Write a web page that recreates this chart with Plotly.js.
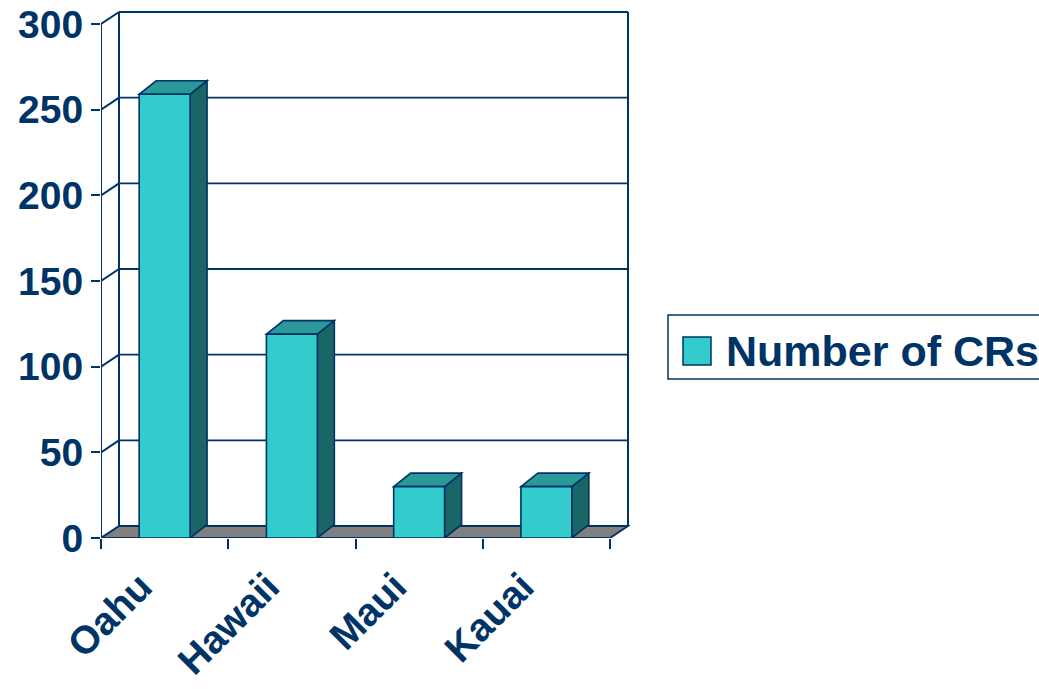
<!DOCTYPE html>
<html>
<head>
<meta charset="utf-8">
<script src="https://cdn.plot.ly/plotly-3.0.1.min.js"></script>
<style>
  html, body { margin: 0; padding: 0; background: #ffffff; }
  #chart { width: 1039px; height: 689px; }
</style>
</head>
<body>
<div id="chart"></div>
<script>
// ---- data ----
const categories = ['Oahu', 'Hawaii', 'Maui', 'Kauai'];
const crCounts = [259, 119, 30, 30];
const seriesName = 'Number of CRs';
const yTickVals = [0, 50, 100, 150, 200, 250, 300];

// ---- style / layout constants ----
const NAVY = '#003366';
const FRONT = '#33CCCC';
const TOPC = '#2B9999';
const SIDE = '#1A6666';
const FLOOR = '#808080';
const FONT = '"Liberation Sans", Arial, Helvetica, sans-serif';

const W = 1039, H = 689;
const L = 101, T = 9, PW = 529, PH = 529;
const R = W - L - PW, B = H - T - PH;

// front plane: 4 categories over 509 px; 300 units over 514 px
const pxPerCat = 509 / categories.length;
const yMax = yTickVals[yTickVals.length - 1];
const pxPerUnit = 514 / yMax;
const xRange = [-0.5, -0.5 + PW / pxPerCat];
const yRange = [0, PH / pxPerUnit];

// depth offsets (expressed in axis units)
const DX = 18 / pxPerCat, DY = 12 / pxPerUnit;        // box depth
const BDX = 17 / pxPerCat, BDY = 13.5 / pxPerUnit;    // bar depth
const BAR_W = 0.4;

const x0 = -0.5, x1 = categories.length - 0.5;

function seg(xa, ya, xb, yb, w) {
  return {type: 'line', xref: 'x', yref: 'y', x0: xa, y0: ya, x1: xb, y1: yb,
          layer: 'below', line: {color: NAVY, width: w}};
}
function poly(pts, fill, w) {
  const d = 'M ' + pts.map(p => p[0] + ',' + p[1]).join(' L ') + ' Z';
  return {type: 'path', xref: 'x', yref: 'y', path: d, layer: 'below',
          fillcolor: fill, line: {color: NAVY, width: w}};
}

const shapes = [];
// back wall gridlines + top, left side wall diagonals
yTickVals.forEach(v => {
  if (v === 0) return;
  shapes.push(seg(x0 + DX, v + DY, x1 + DX, v + DY, v === yMax ? 2 : 1.8));
  shapes.push(seg(x0, v, x0 + DX, v + DY, 2));
});
// back wall verticals
shapes.push(seg(x0 + DX, DY, x0 + DX, yMax + DY, 2));
shapes.push(seg(x1 + DX, DY, x1 + DX, yMax + DY, 2));
// front left vertical (value axis line)
shapes.push(seg(x0, 0, x0, yMax, 2));
// floor
shapes.push(poly([[x0, 0], [x1, 0], [x1 + DX, DY], [x0 + DX, DY]], FLOOR, 2));
// bar side and top faces
crCounts.forEach((v, i) => {
  const l = i - BAR_W / 2, r = i + BAR_W / 2;
  shapes.push(poly([[r, 0], [r, v], [r + BDX, v + BDY], [r + BDX, BDY]], SIDE, 1.6));
  shapes.push(poly([[l, v], [r, v], [r + BDX, v + BDY], [l + BDX, v + BDY]], TOPC, 1.6));
});

// manual legend (paper coords from pixel positions)
const px = p => (p - L) / PW;
const py = p => 1 - (p - T) / PH;
shapes.push({type: 'rect', xref: 'paper', yref: 'paper', x0: px(668), x1: px(1060),
             y0: py(379), y1: py(315), layer: 'above', fillcolor: 'rgba(0,0,0,0)',
             line: {color: NAVY, width: 1.5}});
shapes.push({type: 'rect', xref: 'paper', yref: 'paper', x0: px(683), x1: px(711),
             y0: py(365), y1: py(337), layer: 'above', fillcolor: FRONT,
             line: {color: NAVY, width: 1.5}});

const annotations = [{
  xref: 'paper', yref: 'paper', x: px(724), y: py(351), xanchor: 'left', yanchor: 'middle',
  text: seriesName, showarrow: false,
  font: {family: FONT, size: 43, color: NAVY, weight: 'bold'}
}];

const traces = [{
  type: 'bar', name: seriesName, x: categories, y: crCounts, width: BAR_W,
  marker: {color: FRONT, line: {color: NAVY, width: 1.6}},
  showlegend: false, hoverinfo: 'skip'
}];

const layout = {
  width: W, height: H,
  margin: {l: L, r: R, t: T, b: B, pad: 0},
  paper_bgcolor: '#ffffff', plot_bgcolor: '#ffffff',
  showlegend: false,
  xaxis: {
    type: 'category', range: xRange, tickson: 'boundaries',
    ticks: 'outside', ticklen: 10, tickwidth: 2, tickcolor: NAVY,
    showline: false, showgrid: false, zeroline: false,
    tickangle: -45, ticklabelshift: -24, ticklabelstandoff: 17,
    tickfont: {family: FONT, size: 39, color: NAVY, weight: 'bold'}, fixedrange: true
  },
  yaxis: {
    range: yRange, tickvals: yTickVals,
    ticks: 'outside', ticklen: 9, tickwidth: 2, tickcolor: NAVY,
    showline: false, showgrid: false, zeroline: false,
    tickfont: {family: FONT, size: 39, color: NAVY, weight: 'bold'},
    ticklabelstandoff: 0, fixedrange: true
  },
  shapes: shapes,
  annotations: annotations
};

Plotly.newPlot('chart', traces, layout, {staticPlot: true, displayModeBar: false});
</script>
</body>
</html>
